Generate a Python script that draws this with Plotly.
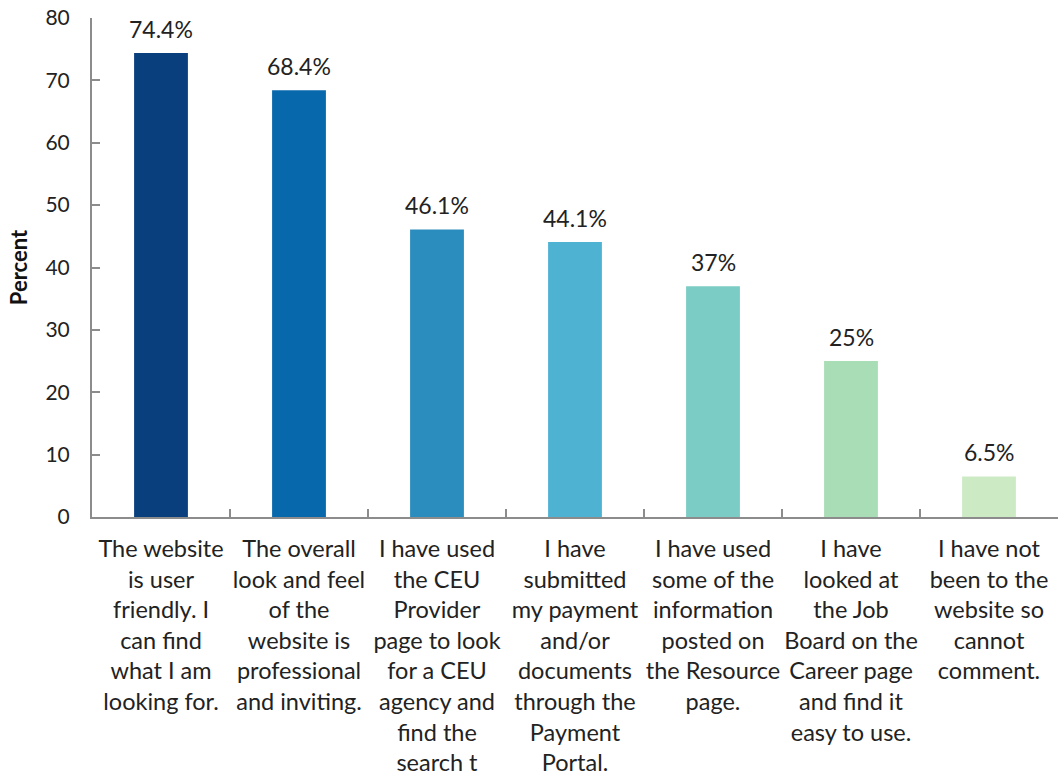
import plotly.graph_objects as go

categories = [
    "The website<br>is user<br>friendly. I<br>can find<br>what I am<br>looking for.",
    "The overall<br>look and feel<br>of the<br>website is<br>professional<br>and inviting.",
    "I have used<br>the CEU<br>Provider<br>page to look<br>for a CEU<br>agency and<br>find the<br>search t",
    "I have<br>submitted<br>my payment<br>and/or<br>documents<br>through the<br>Payment<br>Portal.",
    "I have used<br>some of the<br>information<br>posted on<br>the Resource<br>page.",
    "I have<br>looked at<br>the Job<br>Board on the<br>Career page<br>and find it<br>easy to use.",
    "I have not<br>been to the<br>website so<br>cannot<br>comment.",
]
values = [74.4, 68.4, 46.1, 44.1, 37, 25, 6.5]
value_labels = ["74.4%", "68.4%", "46.1%", "44.1%", "37%", "25%", "6.5%"]
colors = ["#0a3f7e", "#0868ac", "#2b8cbe", "#4eb3d3", "#7bccc4", "#a8ddb5", "#ccebc5"]
y_ticks = [0, 10, 20, 30, 40, 50, 60, 70, 80]

FONT = "Lato, Calibri, 'Open Sans', sans-serif"

fig = go.Figure(
    go.Bar(
        x=categories,
        y=values,
        marker=dict(color=colors, line=dict(width=0)),
        width=0.39,
        hoverinfo="skip",
    )
)

for cat, val, lab in zip(categories, values, value_labels):
    fig.add_annotation(
        x=cat, y=val, text=lab, showarrow=False,
        yanchor="bottom", yshift=8,
        font=dict(family=FONT, size=23, color="#222222"),
    )

fig.update_layout(
    width=1058,
    height=784,
    margin=dict(l=92, r=0, t=18, b=267, autoexpand=False),
    plot_bgcolor="white",
    paper_bgcolor="white",
    showlegend=False,
    font=dict(family=FONT, size=22, color="#222222"),
)

fig.update_xaxes(
    showline=True,
    linecolor="#8c8c8c",
    linewidth=2,
    ticks="inside",
    tickson="boundaries",
    ticklen=8,
    tickcolor="#8c8c8c",
    tickwidth=2,
    tickfont=dict(family=FONT, size=23.5, color="#222222"),
    tickangle=0,
    ticklabelstandoff=10,
    showgrid=False,
    automargin=False,
)

fig.update_yaxes(
    range=[0, 80],
    tickvals=y_ticks,
    showline=True,
    linecolor="#8c8c8c",
    linewidth=2,
    ticks="inside",
    ticklen=8,
    tickcolor="#8c8c8c",
    tickwidth=2,
    tickfont=dict(family=FONT, size=21, color="#222222"),
    ticklabelstandoff=16,
    ticklabeloverflow="allow",
    showgrid=False,
    zeroline=False,
    automargin=False,
    title=dict(text="<b>Percent</b>", font=dict(family=FONT, size=22, color="#111111"), standoff=12),
)

fig.write_html(
    "out.html",
    config={"displayModeBar": False},
    post_script="document.body.style.margin='0';document.body.style.overflow='hidden';",
)
